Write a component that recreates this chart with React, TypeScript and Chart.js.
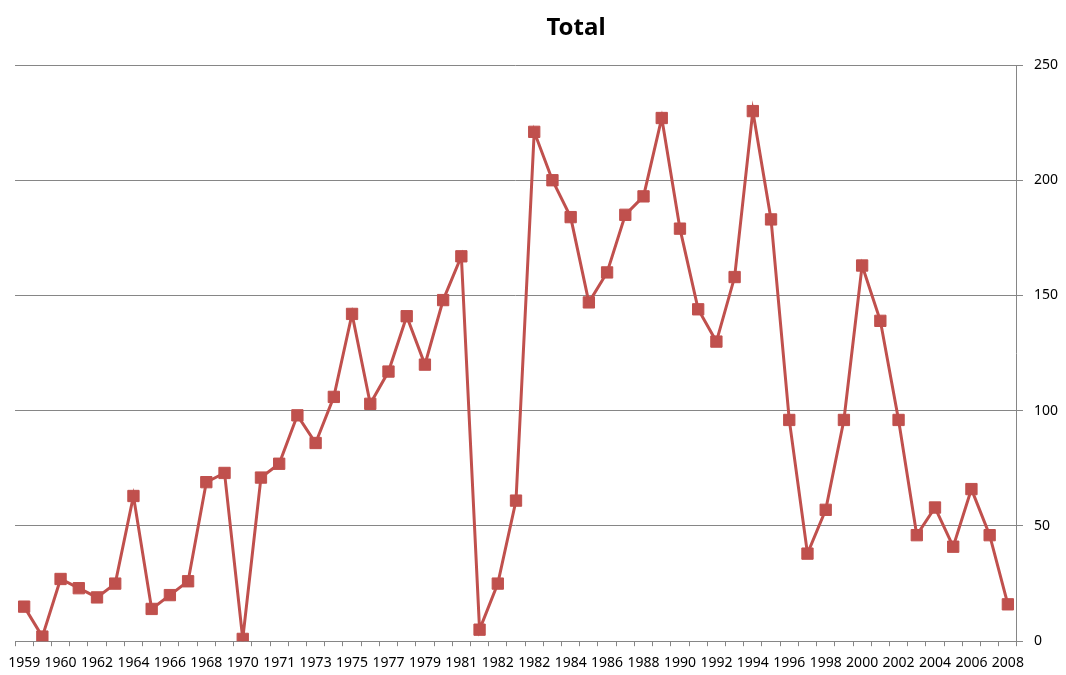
import React, { useEffect, useRef } from "react";
import { Chart, registerables } from "chart.js";

Chart.register(...registerables);

const chartTitle = "Total";

const categories: string[] = [
  "1959", "1959", "1960", "1961", "1962", "1963", "1964", "1965", "1966", "1967",
  "1968", "1969", "1970", "1970", "1971", "1972", "1973", "1974", "1975", "1976",
  "1977", "1978", "1979", "1980", "1981", "1981", "1982", "1982", "1982", "1983",
  "1984", "1985", "1986", "1987", "1988", "1989", "1990", "1991", "1992", "1993",
  "1994", "1995", "1996", "1997", "1998", "1999", "2000", "2001", "2002", "2003",
  "2004", "2005", "2006", "2007", "2008",
];

const totals: number[] = [
  15, 2, 27, 23, 19, 25, 63, 14, 20, 26,
  69, 73, 1, 71, 77, 98, 86, 106, 142, 103,
  117, 141, 120, 148, 167, 5, 25, 61, 221, 200,
  184, 147, 160, 185, 193, 227, 179, 144, 130, 158,
  230, 183, 96, 38, 57, 96, 163, 139, 96, 46,
  58, 41, 66, 46, 16,
];

const yMin = 0;
const yMax = 250;
const yStep = 50;

const LINE_COLOR = "#C0504D";
const GRID_COLOR = "#868686";
const FONT_FAMILY = '"Noto Sans", "Open Sans", sans-serif';

export default function App() {
  const canvasRef = useRef<HTMLCanvasElement | null>(null);

  useEffect(() => {
    document.body.style.margin = "0";
    const canvas = canvasRef.current;
    if (!canvas) return;

    const titlePlugin = {
      id: "excelTitle",
      afterDraw(chart: any) {
        const ctx = chart.ctx;
        ctx.save();
        ctx.font = `bold 24px ${FONT_FAMILY}`;
        ctx.fillStyle = "#000000";
        ctx.textAlign = "center";
        ctx.textBaseline = "middle";
        ctx.fillText(chartTitle, 576, 28);
        ctx.restore();
      },
    };

    const chart = new Chart(canvas, {
      type: "line",
      data: {
        labels: categories,
        datasets: [
          {
            label: chartTitle,
            data: totals,
            borderColor: LINE_COLOR,
            backgroundColor: LINE_COLOR,
            borderWidth: 3,
            pointStyle: "rect",
            pointRadius: 8,
            pointHoverRadius: 8,
            pointBorderWidth: 1,
            pointBackgroundColor: LINE_COLOR,
            pointBorderColor: LINE_COLOR,
            tension: 0,
          },
        ],
      },
      options: {
        responsive: false,
        animation: false,
        layout: {
          padding: { top: 65, left: 14, right: -3, bottom: -4 },
        },
        plugins: {
          legend: { display: false },
          title: { display: false },
          tooltip: { enabled: false },
        },
        scales: {
          x: {
            type: "category",
            offset: true,
            grid: {
              display: true,
              offset: true,
              drawOnChartArea: false,
              drawTicks: true,
              tickLength: 5,
              color: GRID_COLOR,
            },
            border: { display: true, color: GRID_COLOR, width: 1 },
            ticks: {
              autoSkip: false,
              maxRotation: 0,
              minRotation: 0,
              padding: 8,
              color: "#000000",
              font: { family: FONT_FAMILY, size: 14 },
              callback: (_v: any, idx: number) => (idx % 2 === 0 ? categories[idx] : ""),
            },
          },
          y: {
            position: "right",
            min: yMin,
            max: yMax,
            grid: {
              color: GRID_COLOR,
              drawTicks: true,
              tickLength: 6,
            },
            border: { display: true, color: GRID_COLOR, width: 1 },
            ticks: {
              stepSize: yStep,
              padding: 11,
              color: "#000000",
              font: { family: FONT_FAMILY, size: 14 },
            },
          },
        },
      },
      plugins: [titlePlugin],
    });

    return () => {
      chart.destroy();
    };
  }, []);

  return (
    <div style={{ width: 1066, height: 675, background: "#ffffff" }}>
      <canvas ref={canvasRef} width={1066} height={675} />
    </div>
  );
}
